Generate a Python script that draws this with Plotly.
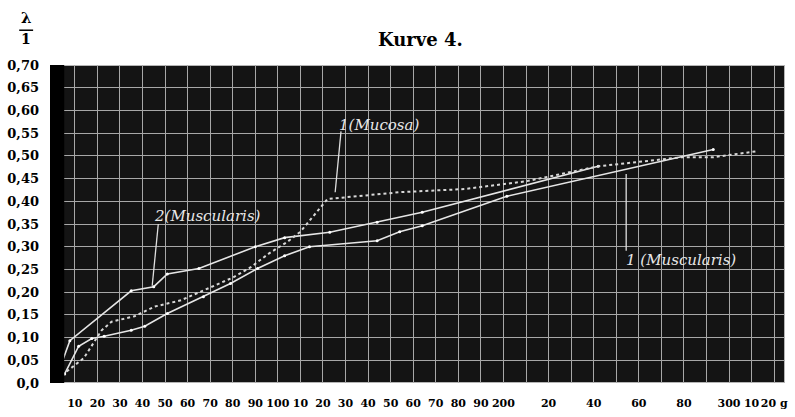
import plotly.graph_objects as go

# ---- data ----
musc2_x = [4.3, 7.8, 35, 45, 51, 65, 90, 103, 123, 144, 164, 242]
musc2_y = [0.045, 0.093, 0.203, 0.212, 0.240, 0.252, 0.300, 0.320, 0.332, 0.354, 0.376, 0.477]

musc1_x = [5.5, 11.7, 17.5, 23, 35, 41, 51, 67, 79, 91, 103, 114, 144, 154, 164, 201.5, 293]
musc1_y = [0.020, 0.081, 0.098, 0.103, 0.116, 0.125, 0.153, 0.190, 0.219, 0.252, 0.280, 0.300,
           0.313, 0.333, 0.346, 0.411, 0.514]

muc_x = [4.3, 14, 21.9, 26.3, 36.5, 45.3, 57, 69, 80, 88, 96, 104, 110, 122, 154, 183, 210,
         242, 270, 279, 293, 312]
muc_y = [0.017, 0.055, 0.116, 0.135, 0.147, 0.168, 0.182, 0.208, 0.232, 0.255, 0.285, 0.310,
         0.333, 0.405, 0.420, 0.427, 0.444, 0.477, 0.492, 0.497, 0.497, 0.510]

x_tickvals = list(range(10, 330, 10))
x_ticktext = ["10", "20", "30", "40", "50", "60", "70", "80", "90", "100",
              "10", "20", "30", "40", "50", "60", "70", "80", "90", "200",
              "", "20", "", "40", "", "60", "", "80", "", "300", "10", "20 g"]
y_tickvals = [i * 0.05 for i in range(15)]
y_ticktext = ["0,0", "0,05", "0,10", "0,15", "0,20", "0,25", "0,30", "0,35", "0,40",
              "0,45", "0,50", "0,55", "0,60", "0,65", "0,70"]

X_RANGE = [-1.0, 324.8]
Y_RANGE = [0, 0.70]

W, H = 795, 417
ML, MR, MT, MB = 48, 7, 65, 32
pw = W - ML - MR
ph = H - MT - MB


def px_to_paper(px, py):
    return (px - ML) / pw, (H - MB - py) / ph


fig = go.Figure()

line_col = "#e6e6e6"
fig.add_trace(go.Scatter(x=musc2_x, y=musc2_y, mode="lines+markers",
                         line=dict(color=line_col, width=1.6),
                         marker=dict(size=3, color="white"), name="2 (Muscularis)"))
fig.add_trace(go.Scatter(x=musc1_x, y=musc1_y, mode="lines+markers",
                         line=dict(color=line_col, width=1.6),
                         marker=dict(size=3, color="white"), name="1 (Muscularis)"))
fig.add_trace(go.Scatter(x=muc_x, y=muc_y, mode="lines",
                         line=dict(color="#d8d8d8", width=2, dash="3px,3px"),
                         name="1 (Mucosa)"))

serif = "DejaVu Serif"

# black band at the left edge and frame
fig.add_shape(type="rect", xref="x", yref="y", x0=X_RANGE[0], x1=5.3, y0=-0.005, y1=0.70,
              fillcolor="black", line=dict(width=0), layer="above")
fig.add_shape(type="rect", xref="x", yref="y", x0=X_RANGE[0], x1=X_RANGE[1], y0=0, y1=0.70,
              line=dict(color="#b5b5b5", width=2), layer="below")

# pointer lines for labels
ptr = dict(color="#e0e0e0", width=1.3)
fig.add_shape(type="line", xref="x", yref="y", x0=47, y0=0.350, x1=44.3, y1=0.214, line=ptr)
fig.add_shape(type="line", xref="x", yref="y", x0=128, y0=0.554, x1=125.4, y1=0.420, line=ptr)
fig.add_shape(type="line", xref="x", yref="y", x0=254.4, y0=0.460, x1=254.4, y1=0.291, line=ptr)

lab_font = dict(family=serif, size=15, color="#e8e8e8", style="italic")
fig.add_annotation(x=44, y=0.368, xref="x", yref="y", text="2(Muscularis)", showarrow=False,
                   xanchor="left", yanchor="middle", font=lab_font)
fig.add_annotation(x=126.2, y=0.567, xref="x", yref="y", text="1(Mucosa)", showarrow=False,
                   xanchor="left", yanchor="middle", font=lab_font)
fig.add_annotation(x=253.5, y=0.271, xref="x", yref="y", text="1 (Muscularis)", showarrow=False,
                   xanchor="left", yanchor="middle", font=lab_font)

# title and y-axis symbol (positions given in pixels)
for txt, (px, py), size in [("Kurve 4.", (421, 39), 18), ("λ", (24, 18), 15), ("1", (24, 39), 14)]:
    ax_, ay_ = px_to_paper(px, py)
    fig.add_annotation(x=ax_, y=ay_, xref="paper", yref="paper", text=txt, showarrow=False,
                       xanchor="center", yanchor="middle",
                       font=dict(family=serif, size=size, color="black", weight="bold"))

# fraction bar under lambda
bx0, by = px_to_paper(17, 30)
bx1, _ = px_to_paper(31, 30)
fig.add_shape(type="line", xref="paper", yref="paper", x0=bx0, x1=bx1, y0=by, y1=by,
              line=dict(color="black", width=1.5))

fig.update_layout(
    width=W, height=H,
    margin=dict(l=ML, r=MR, t=MT, b=MB),
    paper_bgcolor="white",
    plot_bgcolor="#141414",
    showlegend=False,
    xaxis=dict(range=X_RANGE, tickvals=x_tickvals, ticktext=x_ticktext,
               showgrid=True, gridcolor="#a8a8a8", gridwidth=1.4, zeroline=False,
               ticks="", ticklabelstandoff=12, tickangle=0,
               tickfont=dict(family=serif, size=11, color="black", weight="bold")),
    yaxis=dict(range=Y_RANGE, tickvals=y_tickvals, ticktext=y_ticktext,
               showgrid=True, gridcolor="#a8a8a8", gridwidth=1.4, zeroline=False,
               ticks="", ticklabelstandoff=10,
               tickfont=dict(family=serif, size=13, color="black", weight="bold")),
)

fig.write_html("out.html")
